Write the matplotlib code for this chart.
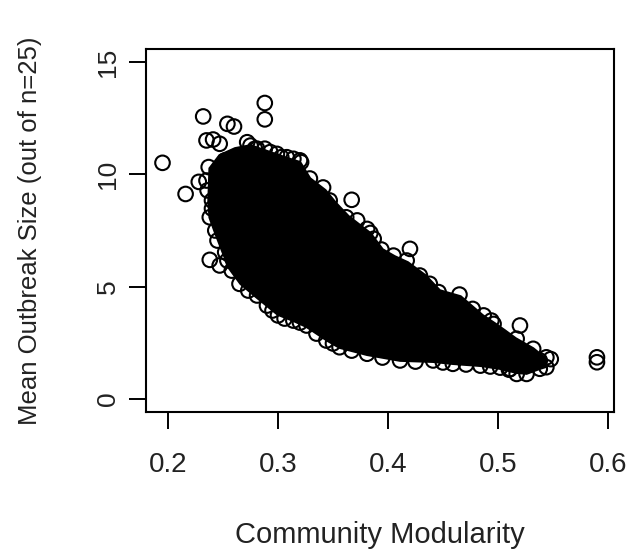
import matplotlib
matplotlib.use("Agg")
import matplotlib.pyplot as plt

plt.rcParams['font.family'] = ['Liberation Sans', 'DejaVu Sans']

# Envelope of the solid (overplotted) cloud
upper_x = [0.238, 0.247, 0.261, 0.275, 0.288, 0.306, 0.320, 0.329, 0.343, 0.352,
           0.364, 0.384, 0.395, 0.406, 0.418, 0.434, 0.447, 0.466, 0.486, 0.497,
           0.506, 0.516, 0.532, 0.543]
upper_y = [10.27, 10.85, 11.16, 11.29, 11.07, 10.76, 10.54, 9.82, 9.29, 8.75,
           8.13, 7.37, 6.65, 6.34, 6.07, 5.49, 4.82, 4.55, 3.71, 3.35,
           3.04, 2.68, 2.23, 1.79]
lower_x = [0.237, 0.238, 0.243, 0.250, 0.256, 0.266, 0.280, 0.290, 0.300, 0.314,
           0.326, 0.345, 0.356, 0.381, 0.411, 0.441, 0.459, 0.484, 0.502, 0.517,
           0.526, 0.538, 0.544]
lower_y = [8.84, 8.08, 7.41, 6.52, 5.80, 5.13, 4.55, 4.15, 3.75, 3.48,
           3.21, 2.59, 2.28, 1.96, 1.70, 1.65, 1.56, 1.47, 1.34, 1.16,
           1.12, 1.34, 1.43]

# Individually visible points (outliers and edge points of the cloud)
pts_x = [0.288, 0.288, 0.232, 0.195, 0.216, 0.228, 0.254, 0.260, 0.235, 0.241,
         0.247, 0.238, 0.247, 0.367, 0.420, 0.520, 0.590, 0.590, 0.544, 0.544,
         0.538,
         0.237, 0.240, 0.238, 0.243, 0.272, 0.279, 0.288, 0.299, 0.308, 0.320,
         0.329, 0.341, 0.347, 0.362, 0.384, 0.394, 0.405, 0.417, 0.446, 0.465,
         0.487, 0.496, 0.517, 0.532, 0.526, 0.517,
         0.258, 0.252, 0.265, 0.281, 0.290, 0.300, 0.314, 0.326, 0.344, 0.356,
         0.381, 0.411, 0.441, 0.459, 0.484, 0.502,
         0.252, 0.275, 0.281, 0.293, 0.303, 0.314, 0.321, 0.372, 0.387, 0.381,
         0.438, 0.429, 0.477, 0.494, 0.538, 0.511, 0.548,
         0.273, 0.295, 0.306, 0.320, 0.335, 0.350, 0.367, 0.395, 0.425, 0.450,
         0.471, 0.493, 0.510,
         0.235, 0.236, 0.240, 0.245, 0.254]
pts_y = [13.19, 12.46, 12.59, 10.52, 9.13, 9.67, 12.26, 12.14, 11.52, 11.56,
         11.37, 6.19, 5.94, 8.87, 6.68, 3.26, 1.84, 1.62, 1.40, 1.84,
         1.33,
         10.33, 8.84, 8.09, 7.50, 11.44, 11.15, 11.15, 10.92, 10.77, 10.63,
         9.82, 9.42, 8.84, 8.09, 7.39, 6.65, 6.38, 6.16, 4.75, 4.64,
         3.71, 3.33, 2.67, 2.22, 1.10, 1.10,
         5.71, 6.53, 5.12, 4.60, 4.15, 3.71, 3.48, 3.26, 2.59, 2.29,
         2.00, 1.70, 1.70, 1.55, 1.47, 1.38,
         10.63, 11.29, 11.15, 11.00, 10.77, 10.70, 10.55, 7.95, 7.13, 7.57,
         5.12, 5.49, 4.00, 3.48, 1.70, 1.32, 1.76,
         4.82, 3.93, 3.57, 3.39, 2.90, 2.46, 2.14, 1.83, 1.65, 1.61,
         1.52, 1.43, 1.29,
         9.73, 9.29, 8.48, 7.05, 6.16]

xticks = [0.2, 0.3, 0.4, 0.5, 0.6]
yticks = [0, 5, 10, 15]

fig = plt.figure(figsize=(6.3, 5.5), dpi=100)
ax = fig.add_axes([146/630, 1-412/550, (614-146)/630, (412-49)/550])

poly_x = upper_x + lower_x[::-1]
poly_y = upper_y + lower_y[::-1]
ax.fill(poly_x, poly_y, color='black', lw=2, edgecolor='black', zorder=2)
ax.scatter(pts_x, pts_y, s=110, facecolors='none', edgecolors='black',
           linewidths=1.5, zorder=3)

ax.set_xlim(0.18, 0.6055)
ax.set_ylim(-0.6, 15.6)
ax.set_xticks(xticks)
ax.set_xticklabels([str(t) for t in xticks], fontsize=20)
ax.set_yticks(yticks)
ax.set_yticklabels([str(t) for t in yticks], fontsize=19, rotation=90, va='center')
ax.tick_params(axis='both', direction='out', length=12, width=1.4, colors='black')
ax.tick_params(axis='x', pad=17, labelcolor='#222222')
ax.tick_params(axis='y', pad=7, labelcolor='#222222')
for sp in ax.spines.values():
    sp.set_linewidth(1.5)

ax.set_xlabel('Community Modularity', fontsize=21, va='center', color='#222222')
ax.xaxis.set_label_coords(0.5, (412-535)/(412-49))
ax.set_ylabel('Mean Outbreak Size (out of n=25)', fontsize=18.5, va='center',
              ha='center', color='#222222')
ax.yaxis.set_label_coords((30-146)/(614-146), 0.5)

fig.savefig('out.png', dpi=100)
